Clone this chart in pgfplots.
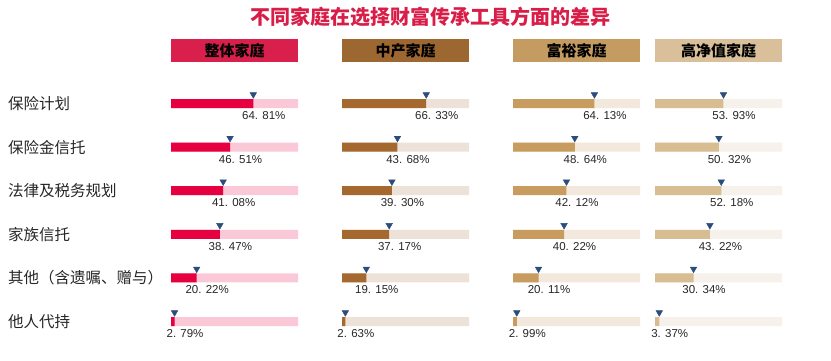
\documentclass[border=0pt]{standalone}
\usepackage{pgfplots}
\pgfplotsset{compat=1.18}
\usepackage{fontspec}
\setmainfont{Liberation Sans}
\newfontfamily\cjk{Noto Sans CJK SC}
\definecolor{titlered}{HTML}{D81E48}
\definecolor{dA}{HTML}{E6003F}\definecolor{lA}{HTML}{FAC8D7}\definecolor{hA}{HTML}{D91F4B}
\definecolor{dB}{HTML}{A5682E}\definecolor{lB}{HTML}{EDE2D8}\definecolor{hB}{HTML}{9D6731}
\definecolor{dC}{HTML}{C79C5E}\definecolor{lC}{HTML}{F2E8DC}\definecolor{hC}{HTML}{C49B60}
\definecolor{dD}{HTML}{D8BD93}\definecolor{lD}{HTML}{F6F1EA}\definecolor{hD}{HTML}{D9C09A}
\definecolor{mk}{HTML}{2B4C7E}
\definecolor{txt}{HTML}{262626}
\pgfplotsset{panel/.style={scale only axis, width=127pt, height=261.6pt,
  xmin=0, xmax=100, ymin=0.5, ymax=6.5, y dir=reverse, hide axis,
  anchor=north west, clip=false}}
\newcommand{\panel}[5]{%
\begin{axis}[panel, at={(#1,278.3pt)}]
\addplot[xbar, bar width=9pt, bar shift=0pt, fill=#3, draw=none]
  coordinates {(100,1)(100,2)(100,3)(100,4)(100,5)(100,6)};
\addplot[xbar, bar width=9pt, bar shift=0pt, fill=#2, draw=none] coordinates {#4};
\addplot[only marks, mark=triangle*, mark size=3.8pt, color=mk,
  mark options={yshift=9pt, rotate=180}] coordinates {#4};
\addplot[draw=none, mark=none, nodes near coords, point meta=explicit symbolic,
  every node near coord/.append style={anchor=center, xshift=10.5pt, yshift=-12pt,
  font=\fontsize{11.5}{12}\selectfont, text=txt, inner sep=0pt}] coordinates {#5};
\end{axis}}
\begin{document}
\begin{tikzpicture}[x=1pt,y=1pt]
\useasboundingbox (0,0) rectangle (831,360);
% title
\node[font=\cjk\bfseries\fontsize{20}{22}\selectfont, text=titlered] at (430,343.5) {不同家庭在选择财富传承工具方面的差异};
% headers
\fill[hA] (171,321) rectangle (298,298);
\node[font=\cjk\bfseries\fontsize{15}{16}\selectfont] at (234.5,309.5) {整体家庭};
\fill[hB] (342,321) rectangle (469,298);
\node[font=\cjk\bfseries\fontsize{15}{16}\selectfont] at (405.5,309.5) {中产家庭};
\fill[hC] (513,321) rectangle (640,298);
\node[font=\cjk\bfseries\fontsize{15}{16}\selectfont] at (576.5,309.5) {富裕家庭};
\fill[hD] (655,321) rectangle (782,298);
\node[font=\cjk\bfseries\fontsize{15}{16}\selectfont] at (718.5,309.5) {高净值家庭};
% category labels
\begin{scope}[every node/.style={anchor=west, font=\cjk\fontsize{15.5}{17}\selectfont, text=txt, inner sep=0pt}]
\node at (8,256.5) {保险计划};
\node at (8,212.9) {保险金信托};
\node at (8,169.3) {法律及税务规划};
\node at (8,125.7) {家族信托};
\node at (8,82.1) {其他（含遗嘱、赠与）};
\node at (8,38.5) {他人代持};
\end{scope}
\panel{171pt}{dA}{lA}{(64.81,1)(46.51,2)(41.08,3)(38.47,4)(20.22,5)(2.79,6)}
 {(64.81,1)[64. 81\%](46.51,2)[46. 51\%](41.08,3)[41. 08\%](38.47,4)[38. 47\%](20.22,5)[20. 22\%](2.79,6)[2. 79\%]}
\panel{342pt}{dB}{lB}{(66.33,1)(43.68,2)(39.30,3)(37.17,4)(19.15,5)(2.63,6)}
 {(66.33,1)[66. 33\%](43.68,2)[43. 68\%](39.30,3)[39. 30\%](37.17,4)[37. 17\%](19.15,5)[19. 15\%](2.63,6)[2. 63\%]}
\panel{513pt}{dC}{lC}{(64.13,1)(48.64,2)(42.12,3)(40.22,4)(20.11,5)(2.99,6)}
 {(64.13,1)[64. 13\%](48.64,2)[48. 64\%](42.12,3)[42. 12\%](40.22,4)[40. 22\%](20.11,5)[20. 11\%](2.99,6)[2. 99\%]}
\panel{655pt}{dD}{lD}{(53.93,1)(50.32,2)(52.18,3)(43.22,4)(30.34,5)(3.37,6)}
 {(53.93,1)[53. 93\%](50.32,2)[50. 32\%](52.18,3)[52. 18\%](43.22,4)[43. 22\%](30.34,5)[30. 34\%](3.37,6)[3. 37\%]}
\end{tikzpicture}
\end{document}
